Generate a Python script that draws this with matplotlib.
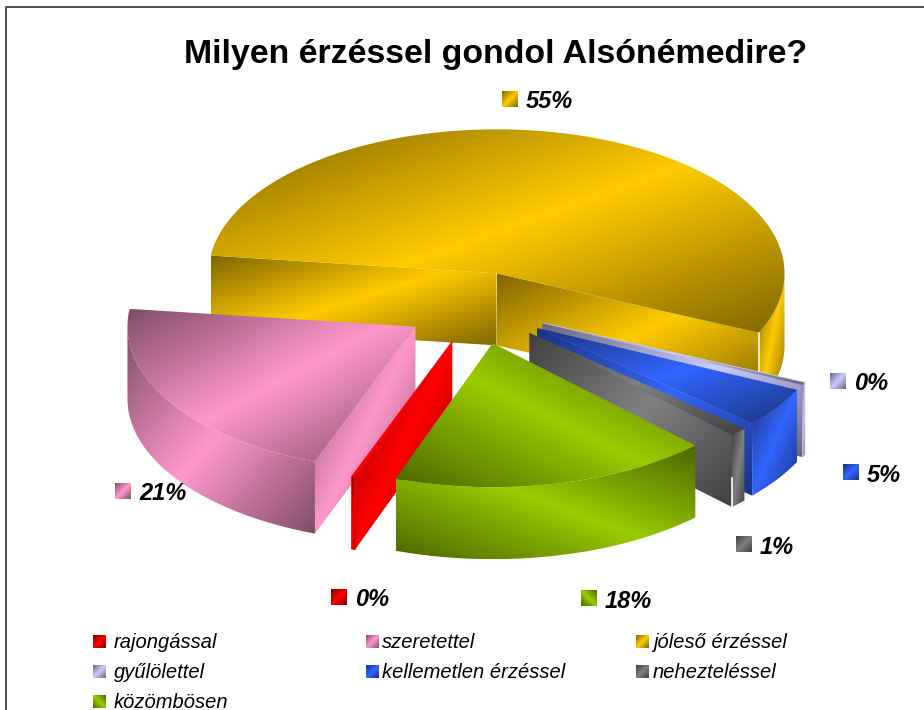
import numpy as np
import matplotlib
matplotlib.use("Agg")
import matplotlib.pyplot as plt
from matplotlib.patches import Polygon

# data
categories = ["rajongással", "szeretettel", "jóleső érzéssel", "gyűlölettel",
              "kellemetlen érzéssel", "nehezteléssel", "közömbösen"]
shares = [0.2, 21.3, 54.8, 0.3, 4.5, 1.0, 17.9]
title = "Milyen érzéssel gondol Alsónémedire?"

# styles, same order as categories
bright = ["#FF0000", "#FF99CC", "#FFCC00", "#CCCCFF", "#3366FF", "#808080", "#99CC00"]
flip_grad = [False, False, False, False, False, False, True]
seam_from = [None, None, 0.0, None, None, 0.6, None]  # white line where wall meets cut face
draw_order = [2, 3, 4, 5, 1, 0, 6]

# layout, in pixels of the 924x710 picture
CX, CY = 477, 308
RX, RY = 288, 144
DEPTH = 72
EXPLODE = 0.25
START = 250.3
label_swatch = [(331, 589), (115, 483), (502, 91), (830, 373), (843, 464), (736, 536), (581, 590)]
legend_x = [93, 366, 636]
legend_text_x = [114, 382, 653]
legend_y = [642, 672, 702]

plt.rcParams["font.family"] = "Liberation Sans"
fig = plt.figure(figsize=(9.24, 7.10), dpi=100)
ax = fig.add_axes([0, 0, 1, 1])


def grad_fill(verts, color, flip=False):
    # dark - bright - dark diagonal fill, one per face like the office gold style
    verts = np.asarray(verts)
    x0, y0 = verts.min(axis=0)
    x1, y1 = verts.max(axis=0)
    u, v = np.meshgrid(np.linspace(0, 1, 128), np.linspace(0, 1, 128))
    if flip:
        v = 1 - v
    t = np.abs(u + v - 1)
    rgb = np.array(matplotlib.colors.to_rgb(color))
    im = rgb[None, None, :] * (1 - 0.5 * t[:, :, None])
    img = ax.imshow(im, extent=(x0, max(x1, x0 + 1), max(y1, y0 + 1), y0), origin="upper",
                    aspect="auto", interpolation="bilinear")
    patch = Polygon(verts, closed=True, transform=ax.transData, fc="none", ec="none")
    ax.add_patch(patch)
    img.set_clip_path(patch)


def arc(px, py, ts):
    return np.column_stack([px + RX * np.cos(ts), py - RY * np.sin(ts)])


def draw_slice(i, t_a, t_b):
    mid = (t_a + t_b) / 2
    px = CX + EXPLODE * RX * np.cos(mid)
    py = CY - EXPLODE * RY * np.sin(mid)
    ts = np.linspace(t_a, t_b, 240)
    outer = arc(px, py, ts)
    # thin slices get a solid base so no white shows between their narrow faces
    if shares[i] < 0.5:
        base = np.vstack([[px, py], outer[0], outer[0] + [0, DEPTH], outer[-1] + [0, DEPTH], outer[-1]])
        ax.fill(base[:, 0], base[:, 1], color=bright[i], lw=1, zorder=0)
    # cut faces, only the ones turned to the viewer
    for t, side in [(t_a, -1), (t_b, 1)]:
        if side * np.cos(t) > 0:
            e = arc(px, py, np.array([t]))[0]
            grad_fill([(px, py), e, (e[0], e[1] + DEPTH), (px, py + DEPTH)], bright[i], flip_grad[i])
    # outer wall, front half only
    vis = outer[np.sin(ts) <= 0]
    if len(vis) > 1:
        wall = np.vstack([vis, (vis + [0, DEPTH])[::-1]])
        grad_fill(wall, bright[i], flip_grad[i])
    # top
    grad_fill(np.vstack([[px, py], outer]), bright[i], flip_grad[i])
    if seam_from[i] is not None:
        e = outer[-1]
        ax.plot([e[0], e[0]], [e[1] + seam_from[i] * DEPTH, e[1] + DEPTH], color="white", lw=1.2, zorder=0)


fracs = np.array(shares) / np.sum(shares)
ends = np.radians(START - 360 * np.cumsum(fracs))
starts = np.radians(START) * np.ones(len(shares))
starts[1:] = ends[:-1]
for i in draw_order:
    draw_slice(i, starts[i], ends[i])

# percent labels
for i, (sx, sy) in enumerate(label_swatch):
    grad_fill([(sx, sy), (sx + 16, sy), (sx + 16, sy + 16), (sx, sy + 16)], bright[i], flip_grad[i])
    ax.text(sx + 24, sy + 11, "%d%%" % int(shares[i] + 0.5), fontsize=17, fontweight="bold",
            fontstyle="italic", va="center", ha="left")

# legend
for i, name in enumerate(categories):
    lx = legend_x[i % 3]
    ly = legend_y[i // 3]
    grad_fill([(lx, ly - 7), (lx + 13, ly - 7), (lx + 13, ly + 6), (lx, ly + 6)], bright[i], flip_grad[i])
    ax.text(legend_text_x[i % 3], ly, name, fontsize=14.5, fontstyle="italic", va="center", ha="left")

ax.text(496, 55, title, fontsize=24.4, fontweight="bold", ha="center", va="center")

# chart area border
ax.plot([6, 6, 924], [710, 7, 7], color="#404040", lw=1.3)

ax.set_xlim(0, 924)
ax.set_ylim(710, 0)
ax.axis("off")
fig.savefig("out.png", dpi=100)
